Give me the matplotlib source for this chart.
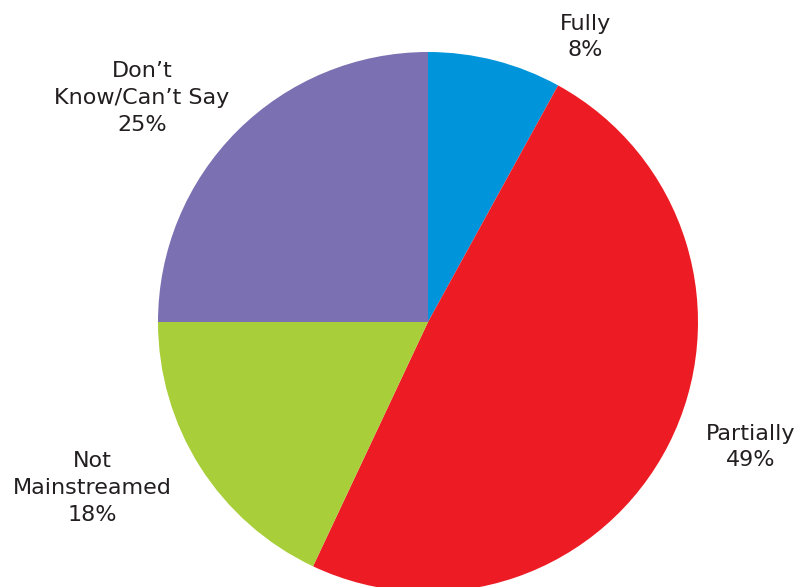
import matplotlib.pyplot as plt

categorias = ["Fully", "Partially", "Not\nMainstreamed", "Don\u2019t\nKnow/Can\u2019t Say"]
porcentajes = [8, 49, 18, 25]
colores = ["#0095DA", "#ED1C24", "#A8CE3A", "#7B70B1"]

# label block centres, in pixels from the top-left corner
pos_etiquetas = [(585, 37), (751, 447), (92, 488), (142, 98)]

fig = plt.figure(figsize=(8, 5.87), dpi=100)
ax = fig.add_axes([0, 0, 1, 1])

ax.pie(porcentajes, colors=colores, startangle=90, counterclock=False,
       center=(428, 587 - 322), radius=270, frame=True,
       wedgeprops={"linewidth": 0})
ax.set_xlim(0, 800)
ax.set_ylim(0, 587)
ax.set_aspect("equal")
ax.axis("off")

for nombre, valor, (x, y) in zip(categorias, porcentajes, pos_etiquetas):
    ax.text(x, 587 - y, f"{nombre}\n{valor}%", ha="center", va="center",
            fontsize=16, color="#231F20", linespacing=1.43)

plt.savefig("out.png", dpi=100)
